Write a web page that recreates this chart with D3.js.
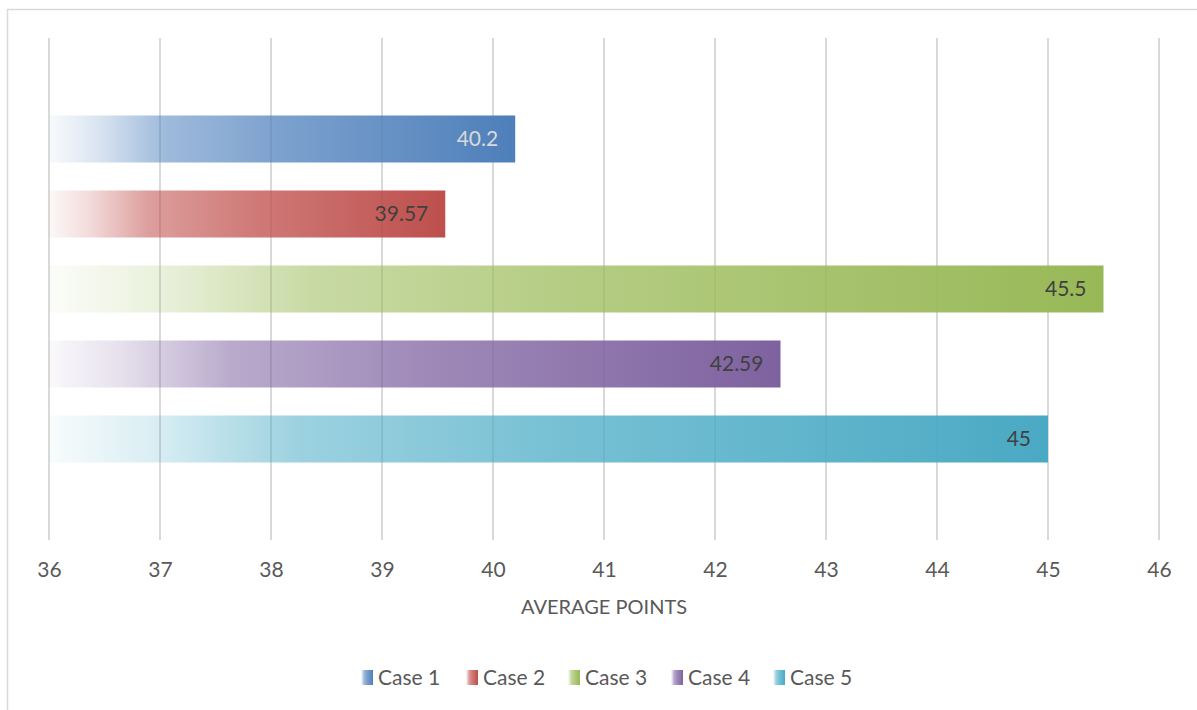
<!DOCTYPE html>
<html>
<head>
<meta charset="utf-8">
<script src="https://cdn.jsdelivr.net/npm/d3@7"></script>
<style>
  body { margin: 0; background: #fff; }
  text { font-family: Lato, "Open Sans", sans-serif; }
</style>
</head>
<body>
<svg id="chart"></svg>
<script>
// chart data
var cases = ["Case 1", "Case 2", "Case 3", "Case 4", "Case 5"];
var avgPoints = [40.2, 39.57, 45.5, 42.59, 45];
var caseColors = ["#4f81bd", "#c0504d", "#9bbb59", "#8064a2", "#4bacc6"];
var labelColors = ["#d9d9d9", "#404040", "#404040", "#404040", "#404040"];
var xTicks = [36, 37, 38, 39, 40, 41, 42, 43, 44, 45, 46];
var xTitle = "AVERAGE POINTS";

var width = 1197, height = 710;
var plot = { left: 49, right: 1159, top: 38, bottom: 540 };

var svg = d3.select("#chart").attr("width", width).attr("height", height);

// gradients, one per case
var defs = svg.append("defs");
caseColors.forEach(function (c, i) {
  var grad = defs.append("linearGradient")
    .attr("id", "grad" + i)
    .attr("x1", "0").attr("x2", "1").attr("y1", "0").attr("y2", "0");
  var dark = d3.color(c).darker(0.05);
  grad.append("stop").attr("offset", "0").attr("stop-color", c).attr("stop-opacity", 0.04);
  grad.append("stop").attr("offset", "0.1").attr("stop-color", c).attr("stop-opacity", 0.2);
  grad.append("stop").attr("offset", "0.25").attr("stop-color", c).attr("stop-opacity", 0.55);
  grad.append("stop").attr("offset", "0.5").attr("stop-color", c).attr("stop-opacity", 0.75);
  grad.append("stop").attr("offset", "1").attr("stop-color", dark).attr("stop-opacity", 1);
});

// outer frame (only left/top visible)
svg.append("path")
  .attr("d", "M7.5,710 V9.5 H1197")
  .attr("fill", "none")
  .attr("stroke", "#d9d9d9")
  .attr("stroke-width", 1.5);

var xScale = d3.scaleLinear().domain([36, 46]).range([plot.left, plot.right]);

// bars grouped around the middle of the plot
var mid = (plot.top + plot.bottom) / 2;
var step = 75;
var yScale = d3.scaleBand()
  .domain(cases)
  .range([mid - step * cases.length / 2, mid + step * cases.length / 2])
  .paddingInner(28 / 75)
  .paddingOuter(14 / 75);

// gridlines
svg.append("g").selectAll("line")
  .data(xTicks)
  .enter().append("line")
  .attr("x1", function (d) { return xScale(d); })
  .attr("x2", function (d) { return xScale(d); })
  .attr("y1", plot.top)
  .attr("y2", plot.bottom)
  .attr("stroke", "#d9d9d9")
  .attr("stroke-width", 2);

// tick labels
var xAxis = d3.axisBottom(xScale).tickValues(xTicks).tickSize(0).tickPadding(0);
var gX = svg.append("g")
  .attr("transform", "translate(0," + (plot.bottom + 18) + ")")
  .call(xAxis);
gX.select(".domain").remove();
gX.selectAll("text")
  .attr("fill", "#595959")
  .attr("font-size", 21)
  .attr("dy", "0.9em");

// axis title
svg.append("text")
  .attr("x", (plot.left + plot.right) / 2)
  .attr("y", 614)
  .attr("text-anchor", "middle")
  .attr("fill", "#595959")
  .attr("font-size", 20)
  .text(xTitle);

// bars
var bars = svg.append("g").selectAll("rect")
  .data(cases)
  .enter().append("rect")
  .attr("x", xScale(36))
  .attr("y", function (d) { return yScale(d); })
  .attr("width", function (d, i) { return xScale(avgPoints[i]) - xScale(36); })
  .attr("height", yScale.bandwidth())
  .attr("fill", function (d, i) { return "url(#grad" + i + ")"; });

// value labels inside end
svg.append("g").selectAll("text")
  .data(cases)
  .enter().append("text")
  .attr("x", function (d, i) { return xScale(avgPoints[i]) - 17; })
  .attr("y", function (d) { return yScale(d) + yScale.bandwidth() / 2; })
  .attr("dy", "0.35em")
  .attr("text-anchor", "end")
  .attr("font-size", 21)
  .attr("fill", function (d, i) { return labelColors[i]; })
  .text(function (d, i) { return avgPoints[i]; });

// legend
var legendX = [361, 466, 568, 671, 773];
var legend = svg.append("g").selectAll("g")
  .data(cases)
  .enter().append("g")
  .attr("transform", function (d, i) { return "translate(" + legendX[i] + ",670)"; });
legend.append("rect")
  .attr("width", 12)
  .attr("height", 15)
  .attr("fill", function (d, i) { return "url(#grad" + i + ")"; });
legend.append("text")
  .attr("x", 17)
  .attr("y", 8)
  .attr("dy", "0.35em")
  .attr("font-size", 21)
  .attr("fill", "#595959")
  .text(function (d) { return d; });
</script>
</body>
</html>
